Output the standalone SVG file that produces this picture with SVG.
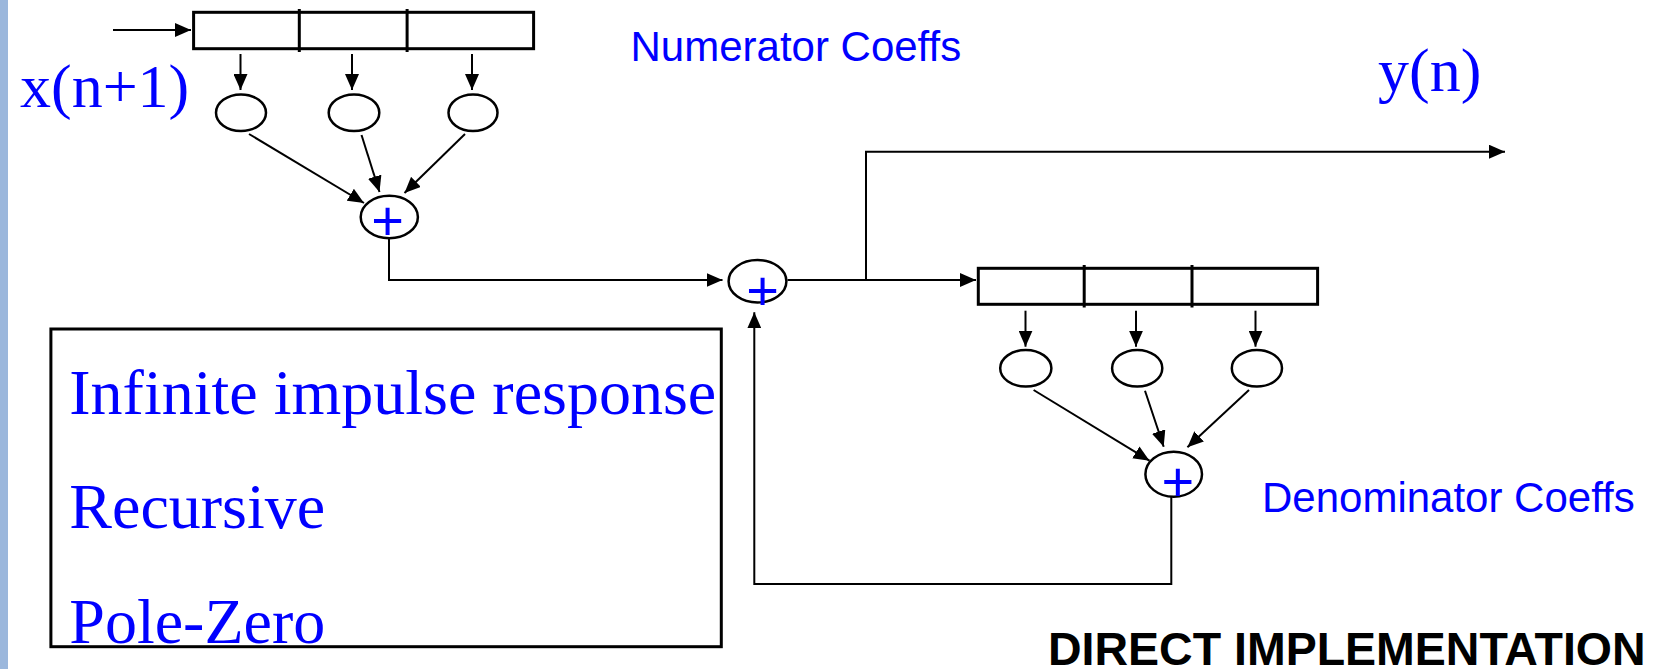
<svg xmlns="http://www.w3.org/2000/svg" width="1666" height="669" viewBox="0 0 1666 669">
<defs>
<marker id="ah" viewBox="0 0 16 14" refX="16" refY="7" markerWidth="16" markerHeight="14" markerUnits="userSpaceOnUse" orient="auto">
<path d="M0,0 L16,7 L0,14 Z" fill="#000"/>
</marker>
<style>
.reg{fill:#fff;stroke:#000;stroke-width:3}
.div{stroke:#000;stroke-width:3}
.mul{fill:#fff;stroke:#000;stroke-width:2.5}
.con{fill:none;stroke:#000;stroke-width:2}
.arr{fill:none;stroke:#000;stroke-width:2;marker-end:url(#ah)}
.plus{font-family:"Liberation Sans",Arial,sans-serif;font-size:56px;fill:#0000ff;text-anchor:middle}
.sans{font-family:"Liberation Sans",Arial,sans-serif;font-size:42px;fill:#0000ff}
.serif{font-family:"Liberation Serif","Times New Roman",serif;fill:#0000ff}
</style>
</defs>
<rect width="1666" height="669" fill="#fff"/>
<rect x="0" y="0" width="8" height="669" fill="#9bb7dc"/>

<g id="connectors">
<line class="arr" x1="113" y1="30" x2="191" y2="30"/>
<line class="arr" x1="240.5" y1="54" x2="240.5" y2="90"/>
<line class="arr" x1="352" y1="54" x2="352" y2="90"/>
<line class="arr" x1="472" y1="54" x2="472" y2="90"/>
<line class="arr" x1="249" y1="134" x2="364" y2="203"/>
<line class="arr" x1="361.5" y1="135" x2="379.5" y2="192"/>
<line class="arr" x1="465" y1="134" x2="404.5" y2="193"/>
<polyline class="arr" points="389,238 389,280 722.5,280"/>
<line class="arr" x1="787.5" y1="280" x2="976" y2="280"/>
<polyline class="arr" points="866,280 866,151.7 1505,151.7"/>
<line class="arr" x1="1025.5" y1="310.7" x2="1025.5" y2="346.7"/>
<line class="arr" x1="1136" y1="310.7" x2="1136" y2="346.7"/>
<line class="arr" x1="1255.5" y1="310.7" x2="1255.5" y2="346.7"/>
<line class="arr" x1="1033.6" y1="390" x2="1149.5" y2="460.7"/>
<line class="arr" x1="1145" y1="390.7" x2="1163.7" y2="446.7"/>
<line class="arr" x1="1249" y1="390" x2="1187.4" y2="447.3"/>
<polyline class="arr" points="1171.3,487 1171.3,584 754.3,584 754.3,312.3"/>
</g>

<g id="numerator-register">
<rect class="reg" x="193.6" y="12.3" width="340" height="36.4"/>
<line class="div" x1="299.3" y1="9" x2="299.3" y2="52"/>
<line class="div" x1="407.1" y1="9" x2="407.1" y2="52"/>
</g>
<g id="num-mul-1"><ellipse class="mul" cx="241" cy="112.7" rx="25" ry="18.3"/></g>
<g id="num-mul-2"><ellipse class="mul" cx="354" cy="112.7" rx="25.3" ry="18.3"/></g>
<g id="num-mul-3"><ellipse class="mul" cx="473" cy="112.7" rx="24.5" ry="18.3"/></g>
<g id="num-sum">
<ellipse class="mul" cx="389.3" cy="217" rx="28.6" ry="21.2"/>
<text class="plus" x="387.5" y="239.7">+</text>
</g>

<g id="mid-sum">
<ellipse class="mul" cx="757.5" cy="281.3" rx="28.9" ry="21.3"/>
<text class="plus" x="762.5" y="309.7">+</text>
</g>

<g id="denominator-register">
<rect class="reg" x="978.3" y="268.3" width="339.3" height="36"/>
<line class="div" x1="1084.2" y1="265" x2="1084.2" y2="307.5"/>
<line class="div" x1="1192" y1="265" x2="1192" y2="307.5"/>
</g>
<g id="den-mul-1"><ellipse class="mul" cx="1025.8" cy="368.3" rx="25.6" ry="18.3"/></g>
<g id="den-mul-2"><ellipse class="mul" cx="1137.2" cy="368.3" rx="25.1" ry="18.3"/></g>
<g id="den-mul-3"><ellipse class="mul" cx="1256.9" cy="368.3" rx="25.1" ry="18.3"/></g>
<g id="den-sum">
<ellipse class="mul" cx="1173.7" cy="474.2" rx="28.3" ry="22.5"/>
<text class="plus" x="1177.8" y="501.2">+</text>
</g>

<g id="labels">
<text class="serif" x="20" y="106.5" font-size="62">x(n+1)</text>
<text class="serif" x="1378" y="91.3" font-size="62">y(n)</text>
<text class="sans" x="630.5" y="60.5">Numerator Coeffs</text>
<text class="sans" x="1262" y="511.7">Denominator Coeffs</text>
<text x="1048" y="665" font-family="'Liberation Sans',Arial,sans-serif" font-weight="bold" font-size="46.5" fill="#000">DIRECT IMPLEMENTATION</text>
</g>

<g id="info-box">
<rect x="50.9" y="329" width="670.4" height="317.7" fill="none" stroke="#000" stroke-width="3"/>
<text class="serif" x="69.3" y="414.3" font-size="64">Infinite impulse response</text>
<text class="serif" x="69.3" y="528.3" font-size="64">Recursive</text>
<text class="serif" x="69.3" y="643.3" font-size="64">Pole-Zero</text>
</g>
</svg>
